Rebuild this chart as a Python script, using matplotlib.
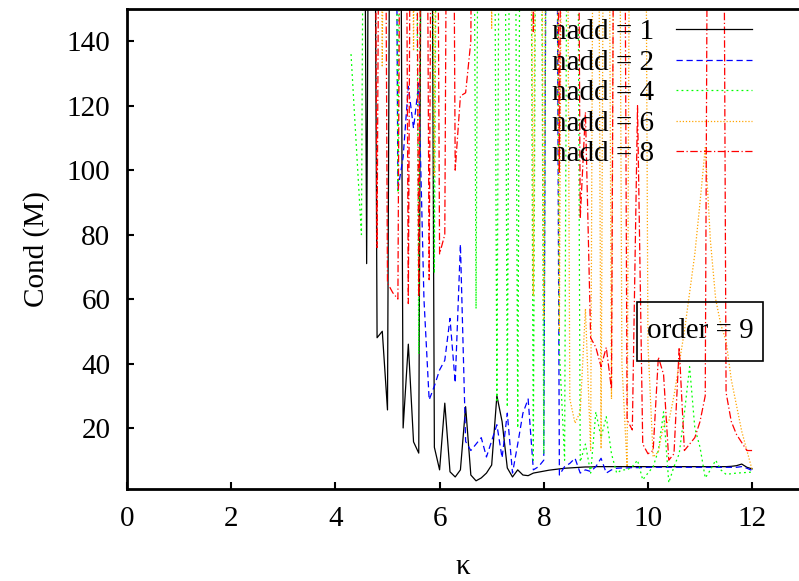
import numpy as np
import matplotlib
matplotlib.use("Agg")
import matplotlib.pyplot as plt
from matplotlib.patches import Rectangle

OFF = 400  # value above the plotted range (gnuplot clips it)
nan = np.nan

kappa = [4.3, 4.4, 4.5, 4.6, 4.7, 4.8, 4.9, 5.0, 5.1, 5.2,
         5.3, 5.4, 5.5, 5.6, 5.7, 5.8, 5.9, 6.0, 6.1, 6.2,
         6.3, 6.4, 6.5, 6.6, 6.7, 6.8, 6.9, 7.0, 7.1, 7.2,
         7.3, 7.4, 7.5, 7.6, 7.7, 7.8, 7.9, 8.0, 8.1, 8.2,
         8.3, 8.4, 8.5, 8.6, 8.7, 8.8, 8.9, 9.0, 9.1, 9.2,
         9.3, 9.4, 9.5, 9.6, 9.7, 9.8, 9.9, 10.0, 10.1, 10.2,
         10.3, 10.4, 10.5, 10.6, 10.7, 10.8, 10.9, 11.0, 11.1, 11.2,
         11.3, 11.4, 11.5, 11.6, 11.7, 11.8, 11.9, 12.0]

cond_nadd1 = [nan, nan, OFF, 71, OFF, 48, 50, 25.6, OFF, OFF,
              20, 46, 15.7, 12.2, OFF, OFF, 14, 7, 27.7, 6.4,
              4.8, 7, 26.6, 5.4, 3.6, 4.5, 6, 8.5, 30, 22,
              7.6, 4.8, 7, 5.4, 5.2, 6, 6.3, 6.6, 6.9, 7.1,
              7.3, 7.5, 7.6, 7.7, 7.8, 7.9, 7.9, 8.0, 8.0, 8.0,
              8.0, 8.0, 8.0, 8.0, 8.0, 8.0, 8.0, 8.0, 8.0, 8.0,
              8.0, 8.0, 8.0, 8.0, 8.0, 8.0, 8.0, 8.0, 8.0, 8.0,
              8.0, 8.0, 8.0, 8.1, 8.3, 8.8, 7.8, 7.3]

cond_nadd2 = [nan, nan, nan, nan, nan, nan, nan, nan, OFF, 94,
              104, 126, 113, 127, 60, 28.7, 33, 38, 41, 54,
              34, 77, 15.8, 13, 15, 17, 11, 16, 21, 10.7,
              24.6, 6, 15, 24.6, 29, 7, 8, 10, OFF, OFF,
              5.4, 8, 9, 10.6, 6, 7, 6.5, 8, 10.6, 6,
              7, 7.5, 7.6, 7.6, 7.7, 7.7, 7.7, 7.8, 7.8, 7.8,
              7.8, 7.8, 7.8, 7.8, 7.8, 7.8, 7.8, 7.8, 7.8, 7.8,
              7.8, 7.8, 7.8, 7.8, 7.8, 8.0, 7.5, 6.8]

cond_nadd4 = [136, 108, 80, OFF, OFF, OFF, OFF, OFF, OFF, 93,
              OFF, OFF, OFF, 43, OFF, OFF, 68, OFF, OFF, OFF,
              OFF, OFF, OFF, OFF, 57, OFF, OFF, OFF, 28, OFF,
              26.5, OFF, 20, OFF, OFF, 10, OFF, 12, OFF, OFF,
              44, 10, OFF, OFF, 9.5, 15, 6, 25, 17, 23.5,
              12, 6, 7, 7, 8, 10, 3.9, 6, 8, 13,
              25, 3, 8, 12, 24.6, 39, 20, 14, 4.5, 7,
              10, 7, 5.6, 5.8, 6, 6.1, 6.2, 6.3]

cond_nadd6 = [nan, nan, nan, nan, nan, OFF, 132, OFF, OFF, OFF,
              OFF, OFF, 137, OFF, OFF, OFF, 98, OFF, OFF, OFF,
              OFF, OFF, OFF, OFF, OFF, OFF, OFF, 144, OFF, OFF,
              OFF, OFF, OFF, OFF, OFF, 61, OFF, 54, OFF, OFF,
              50, OFF, 29, 21.5, 25, 57, 13, OFF, 13.6, OFF,
              29, OFF, 40, 8, OFF, OFF, OFF, 46, 11, 12.6,
              21, 22, 30, 40, 50, 62, 74, 90, 107, 78,
              60, 52, 47, 35, 27, 19, 13, 7]

cond_nadd8 = [nan, nan, nan, nan, OFF, 76, OFF, 65, 62, 60,
              OFF, 58.6, OFF, 60.7, OFF, 66, OFF, 74, 80, OFF,
              100, 123, 124, 140, OFF, OFF, OFF, OFF, OFF, OFF,
              OFF, OFF, OFF, OFF, OFF, 143, OFF, OFF, OFF, OFF,
              99, OFF, OFF, OFF, 85, 118, 48, 45, 39, 45,
              32, OFF, OFF, 22.5, 19.4, 120, 15, 12, 13, 42,
              36.6, 10, 12, 45, 13, 15, 17, 22, 30, OFF,
              OFF, OFF, 31, 22, 18, 15.5, 13, 13]

series = [
    ("nadd = 1", cond_nadd1, "black", "-"),
    ("nadd = 2", cond_nadd2, "#0000ff", (0, (5, 3))),
    ("nadd = 4", cond_nadd4, "#00ff00", (0, (1.5, 2.5))),
    ("nadd = 6", cond_nadd6, "#ffa500", (0, (1, 1.5))),
    ("nadd = 8", cond_nadd8, "#ff0000", (0, (6, 2, 1, 2))),
]

plt.rcParams["font.family"] = ["Liberation Serif", "DejaVu Serif"]
FS = 21

fig = plt.figure(figsize=(7.99, 5.81), dpi=100)
ax = fig.add_axes([0.159, 0.158, 0.841, 0.8265])

for label, vals, color, ls in series:
    ax.plot(kappa, vals, color=color, linestyle=ls, linewidth=0.9, label=label)

ax.set_xlim(0, 12.9)
ax.set_ylim(1, 150)
ax.set_xticks([0, 2, 4, 6, 8, 10, 12])
ax.set_yticks([20, 40, 60, 80, 100, 120, 140])
ax.tick_params(direction="in", length=5, width=1.5, labelsize=FS, pad=12)
ax.tick_params(axis="x", pad=12)
for side in ["left", "bottom", "top"]:
    ax.spines[side].set_linewidth(2)
ax.spines["right"].set_visible(False)

ax.set_xlabel("κ", fontsize=FS, labelpad=16)
ax.set_ylabel("Cond (M)", fontsize=FS, labelpad=12)

ax.legend(loc="upper right", bbox_to_anchor=(0.96, 1.022), frameon=False,
          markerfirst=False, fontsize=FS, handlelength=2.6,
          labelspacing=0.14, handletextpad=0.75, borderaxespad=0.3)

# "order = 9" label box (open, curves show through it)
ax.add_patch(Rectangle((0.759, 0.267), 0.187, 0.123, transform=ax.transAxes,
                       facecolor="none", edgecolor="black", linewidth=1.2,
                       zorder=5))
ax.text(0.853, 0.329, "order = 9", transform=ax.transAxes, fontsize=FS,
        ha="center", va="center", zorder=6)

fig.savefig("out.png", dpi=100)
